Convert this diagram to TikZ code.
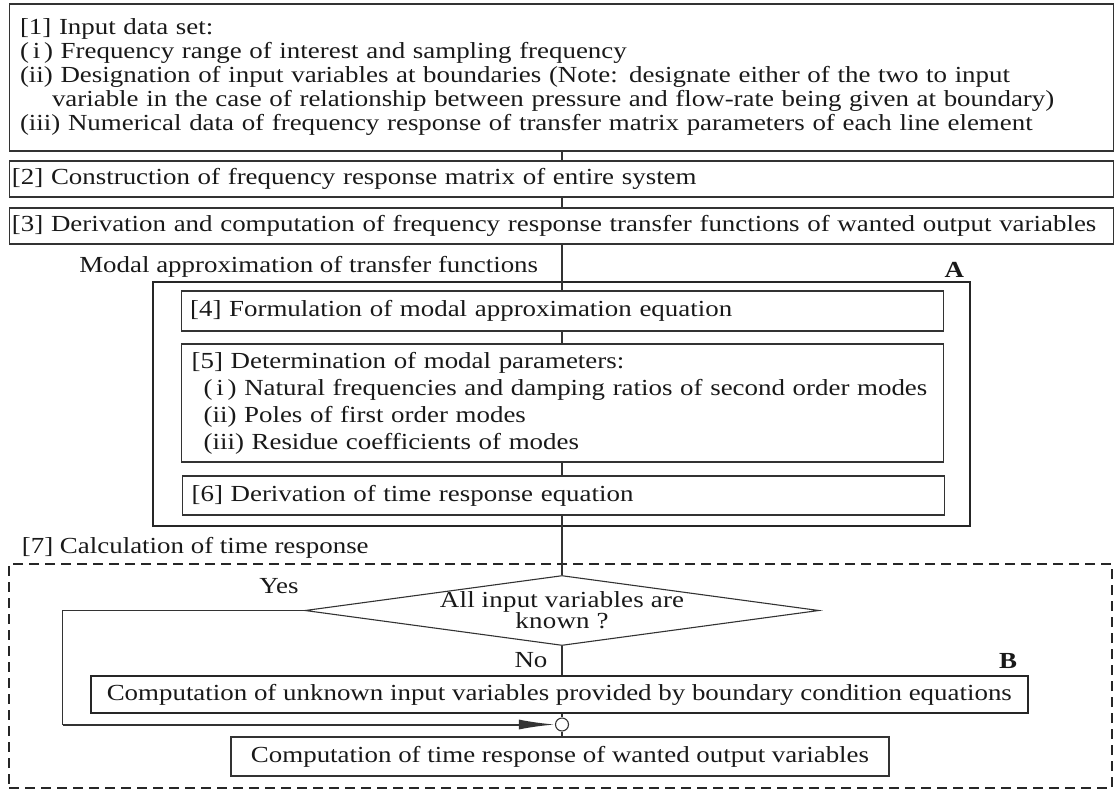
\documentclass[tikz,border=0pt]{standalone}
\usepackage{fontspec}
\setmainfont{Liberation Serif}[FakeStretch=1.17]
\usetikzlibrary{shapes.geometric,arrows.meta}

\tikzset{
	every node/.style={font=\fontsize{23}{24}\selectfont, text=black!90},
	stage/.style={draw=black!80, line width=1.1pt, inner sep=0pt, align=left},
	group/.style={draw=black!85, line width=2.6pt},
	flow/.style={-{Latex[length=36pt,width=10pt]}, line width=2pt},
}

\begin{document}
\begin{tikzpicture}[x=1pt, y=-1pt, line width=1.1pt, draw=black!80]
	\useasboundingbox (0,0) rectangle (1115,790);
	\coordinate (spine) at (562,0);

	% upper chain
	\node [stage, minimum width=1104, minimum height=147, text width=1083] (input) at (561.5,77.5) {[1] Input data set:\\
		\mbox{(\,i\,) Frequency range of interest and sampling frequency}\\
		\mbox{(ii) Designation of input variables at boundaries (Note: designate either of the two to input}\\
		\hspace*{32pt}\mbox{variable in the case of relationship between pressure and flow-rate being given at boundary)}\\
		\mbox{(iii) Numerical data of frequency response of transfer matrix parameters of each line element}};
	\node [stage, minimum width=1104, minimum height=36, text width=1099] (build) at (561.5,179) {\mbox{[2] Construction of frequency response matrix of entire system}};
	\node [stage, minimum width=1104, minimum height=36, text width=1099] (derive) at (561.5,226) {\mbox{[3] Derivation and computation of frequency response transfer functions of wanted output variables}};

	% block A
	\node [anchor=base east] (modaltitle) at (542,272) {Modal approximation of transfer functions};
	\node [group, minimum width=817, minimum height=244, inner sep=0pt] (modal) at (561.4,404) {};
	\node [anchor=base east, font=\fontsize{23}{24}\selectfont\bfseries] (labelA) at (968,277) {A};
	\node [stage, minimum width=762, minimum height=40, text width=745] (formul) at (562.6,311) {\mbox{[4] Formulation of modal approximation equation}};
	\node [stage, minimum width=762, minimum height=118, text width=742] (params) at (562.6,403) {\mbox{[5] Determination of modal parameters:}\\[3pt]
		\hspace*{12pt}\mbox{(\,i\,) Natural frequencies and damping ratios of second order modes}\\[3pt]
		\hspace*{12pt}\mbox{(ii) Poles of first order modes}\\[3pt]
		\hspace*{12pt}\mbox{(iii) Residue coefficients of modes}};
	\node [stage, minimum width=762, minimum height=39, text width=744] (timeeq) at (563.6,495.5) {\mbox{[6] Derivation of time response equation}};

	% block B
	\node [anchor=base west] (calctitle) at (18,553) {[7] Calculation of time response};
	\node [draw=black!85, dash pattern=on 10pt off 6pt, line width=1.6pt, minimum width=1103, minimum height=224, inner sep=0pt] (calc) at (560.5,676) {};
	\node [diamond, draw=black!80, minimum width=514, minimum height=70, inner sep=0pt] (ask) at (562,610.5) {};
	\node [align=center, font=\fontsize{23}{21}\selectfont\addfontfeature{LetterSpace=1}] (asktext) at (ask.center) {All input variables are\\known ?};
	\node [anchor=base] (yes) at (279,593) {Yes};
	\node [anchor=base] (no) at (531,667) {No};
	\node [anchor=base east, font=\fontsize{23}{24}\selectfont\bfseries] (labelB) at (1021,668) {B};
	\node [stage, line width=2.6pt, draw=black!85, minimum width=937, minimum height=37, align=center] (solve) at (559.3,694.5) {Computation of unknown input variables provided by boundary condition equations};
	\node [draw=black!80, circle, minimum size=13, inner sep=0pt] (join) at (562,724.5) {};
	\node [stage, minimum width=658, minimum height=39, align=center] (output) at (560,756.5) {Computation of time response of wanted output variables};
	\coordinate (yesfoot) at (62.5,724.5);

	\draw (input.south -| spine) -- (build.north -| spine);
	\draw (build.south -| spine) -- (derive.north -| spine);
	\draw (derive.south -| spine) -- (formul.north -| spine);
	\draw (formul.south -| spine) -- (params.north -| spine);
	\draw (params.south -| spine) -- (timeeq.north -| spine);
	\draw (timeeq.south -| spine) -- (ask.north);
	\draw (ask.south) -- (solve.north -| ask.south);
	\draw (solve.south -| join) -- (join.north);
	\draw (join.south) -- (output.north -| join);
	\draw (ask.west) -| (yesfoot);
	\draw [flow] (yesfoot) -- (join.west);
\end{tikzpicture}
\end{document}
